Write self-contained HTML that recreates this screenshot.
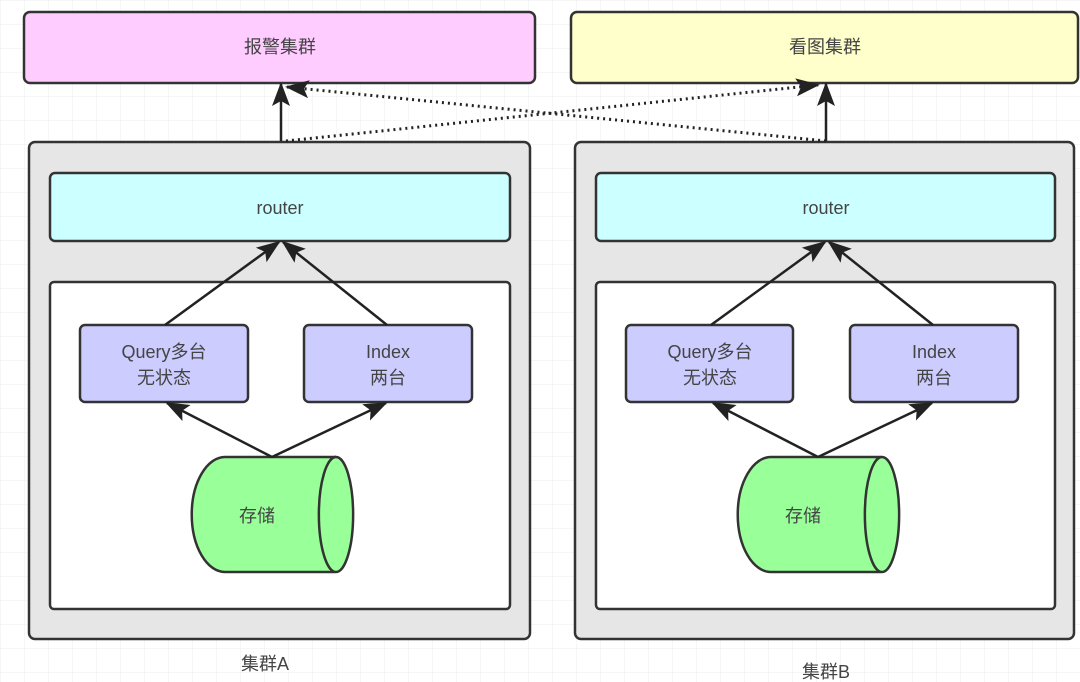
<!DOCTYPE html>
<html><head><meta charset="utf-8"><style>
body{margin:0;width:1080px;height:682px;overflow:hidden;background:#fff}
svg{display:block}
text{font-family:"Liberation Sans","Noto Sans CJK SC",sans-serif;font-size:18px;text-anchor:middle;dominant-baseline:central}
</style></head><body>
<svg width="1080" height="682" viewBox="0 0 1080 682">
<defs>
<pattern id="g" width="24" height="24" patternUnits="userSpaceOnUse"><path d="M24 0H0V24" fill="none" stroke="#ececec" stroke-width="1"/></pattern>
<marker id="b" markerWidth="24" markerHeight="18" refX="22" refY="9" orient="auto" markerUnits="userSpaceOnUse"><path d="M0 0L24 9L0 18L5 9z" fill="#222"/></marker>
</defs>
<rect width="1080" height="682" fill="url(#g)"/>
<g stroke="#333" stroke-width="2.5">
<rect x="24" y="12" width="511" height="71" rx="6" fill="#ffccff"/>
<rect x="571" y="12" width="507" height="71" rx="6" fill="#ffffcc"/>
<rect x="29" y="142" width="501" height="497" rx="6" fill="#e6e6e6"/>
<rect x="575" y="142" width="499" height="497" rx="6" fill="#e6e6e6"/>
<rect x="50" y="173" width="460" height="68" rx="5" fill="#ccffff"/>
<rect x="596" y="173" width="459" height="68" rx="5" fill="#ccffff"/>
<rect x="50" y="282" width="460" height="327" rx="4" fill="#fff"/>
<rect x="596" y="282" width="459" height="327" rx="4" fill="#fff"/>
<rect x="80" y="325" width="168" height="77" rx="5" fill="#ccccff"/>
<rect x="304" y="325" width="168" height="77" rx="5" fill="#ccccff"/>
<rect x="626" y="325" width="167" height="77" rx="5" fill="#ccccff"/>
<rect x="850" y="325" width="168" height="77" rx="5" fill="#ccccff"/>
<path d="M336 457H225A33 57 0 0 0 225 572H336A17 57 0 0 0 336 457A17 57 0 0 0 336 572" fill="#99ff99"/>
<path d="M882 457H771A33 57 0 0 0 771 572H882A17 57 0 0 0 882 457A17 57 0 0 0 882 572" fill="#99ff99"/>
</g>
<g stroke="#222" stroke-width="2.5" fill="none" marker-end="url(#b)">
<path d="M281 141V84"/><path d="M826 141V84"/>
<path d="M165 325L279 242"/><path d="M387 325L283 242"/>
<path d="M711 325L825 242"/><path d="M933 325L829 242"/>
<path d="M272 457L167 403"/><path d="M272 457L386 403"/>
<path d="M818 457L713 403"/><path d="M818 457L932 403"/>
</g>
<g stroke="#222" stroke-width="3" stroke-dasharray="2 4" fill="none" marker-end="url(#b)">
<path d="M826 141L287 87"/><path d="M286 141L818 85"/>
</g>
<g fill="#444">
<text x="280" y="47">报警集群</text>
<text x="825" y="47">看图集群</text>
<text x="280" y="208">router</text>
<text x="826" y="208">router</text>
<text x="164" y="352">Query多台</text><text x="164" y="378">无状态</text>
<text x="388" y="352">Index</text><text x="388" y="378">两台</text>
<text x="710" y="352">Query多台</text><text x="710" y="378">无状态</text>
<text x="934" y="352">Index</text><text x="934" y="378">两台</text>
<text x="257" y="516">存储</text>
<text x="803" y="516">存储</text>
<text x="265" y="664">集群A</text>
<text x="826" y="672">集群B</text>
</g>
</svg>
</body></html>
